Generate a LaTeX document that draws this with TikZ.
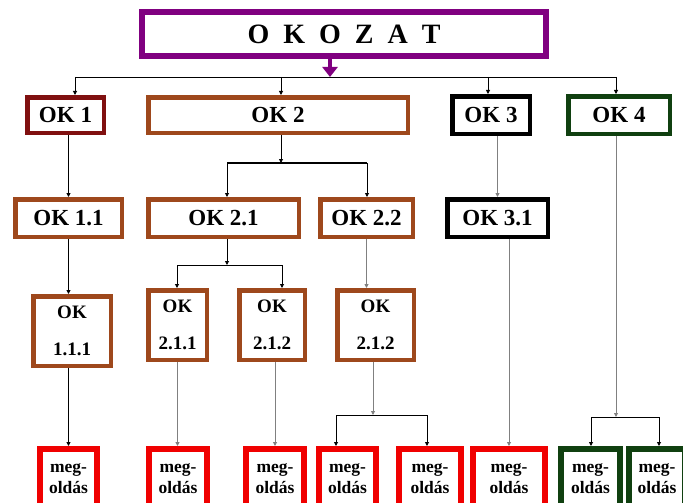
\documentclass[tikz,border=0pt]{standalone}
\usepackage{fontspec}
\setmainfont{Liberation Serif}
\usetikzlibrary{arrows.meta}

\definecolor{okPurple}{RGB}{128,0,128}
\definecolor{okDarkRed}{RGB}{128,16,16}
\definecolor{okBrown}{RGB}{158,72,28}
\definecolor{okGreen}{RGB}{16,64,16}
\definecolor{okRed}{RGB}{240,0,0}

\begin{document}
\begin{tikzpicture}[x=1pt, y=-1pt,
                box/.style={
                  draw=#1, line width=4.5pt, fill=white, inner sep=0pt,
                  font=\fontsize{23}{26}\selectfont\bfseries
                },
                box/.default=okBrown,
                twoLine/.style={box, align=center, font=\fontsize{19}{37}\selectfont\bfseries},
                megBox/.style={
                  draw=#1, line width=6pt, fill=white, inner sep=0pt, align=center,
                  minimum height=60pt, font=\fontsize{17.5}{21}\selectfont\bfseries
                },
                megBox/.default=okRed,
                conn/.style={black, line width=0.9pt, -{Triangle[length=4pt,width=4pt]}},
                connGrey/.style={conn, gray},
                bar/.style={black, line width=0.9pt},
              ]
              \useasboundingbox (0,0) rectangle (683,503);
              \clip (0,0) rectangle (683,503);

              % top box
              \node [draw=okPurple, line width=6pt, inner sep=0pt, minimum width=404pt, minimum height=44pt,
                     font=\fontsize{28}{32}\selectfont\bfseries] (okozat) at (344,34)
                     {O\hspace{14pt}K\hspace{14pt}O\hspace{14pt}Z\hspace{14pt}A\hspace{14pt}T};

              % first level
              \node [box=okDarkRed, minimum width=76.5pt, minimum height=35.5pt] (ok1) at (65.5,115) {OK 1};
              \node [box, minimum width=259.5pt, minimum height=35.5pt] (ok2) at (278,115) {OK 2};
              \node [box=black, minimum width=77.5pt, minimum height=37.5pt] (ok3) at (491,115) {OK 3};
              \node [box=okGreen, minimum width=101.5pt, minimum height=37.5pt] (ok4) at (619,115) {OK 4};

              % second level
              \node [box, minimum width=106.5pt, minimum height=37.5pt] (ok11) at (68.5,218) {OK 1.1};
              \node [box, minimum width=150.5pt, minimum height=37.5pt] (ok21) at (223.5,218) {OK 2.1};
              \node [box, minimum width=92.5pt, minimum height=37.5pt] (ok22) at (366.5,218) {OK 2.2};
              \node [box=black, minimum width=100.5pt, minimum height=37.5pt] (ok31) at (497.5,218) {OK 3.1};

              % third level
              \node [twoLine, minimum width=77.5pt, minimum height=69.5pt] (ok111) at (72,331) {OK\\1.1.1};
              \node [twoLine, minimum width=58.5pt, minimum height=69.5pt] (ok211) at (177.5,325) {OK\\2.1.1};
              \node [twoLine, minimum width=65.5pt, minimum height=69.5pt] (ok212) at (272,325) {OK\\2.1.2};
              \node [twoLine, minimum width=76.5pt, minimum height=69.5pt] (ok212b) at (375.5,325) {OK\\2.1.2};

              % solutions
              \node [megBox, minimum width=57pt] (m1) at (68.5,479) {meg-\\oldás};
              \node [megBox, minimum width=58pt] (m2) at (178,479) {meg-\\oldás};
              \node [megBox, minimum width=58pt] (m3) at (275,479) {meg-\\oldás};
              \node [megBox, minimum width=57pt] (m4) at (347.5,479) {meg-\\oldás};
              \node [megBox, minimum width=62pt] (m5) at (430,479) {meg-\\oldás};
              \node [megBox, minimum width=72pt] (m6) at (509,479) {meg-\\oldás};
              \node [megBox=okGreen, minimum width=59pt] (m7) at (590.5,479) {meg-\\oldás};
              \node [megBox=okGreen, minimum width=56pt] (m8) at (657,479) {meg-\\oldás};

              % branch points
              \coordinate (top) at (330,77);
              \coordinate (b1) at (75,77);
              \coordinate (b2) at (281,77);
              \coordinate (b3) at (488,77);
              \coordinate (b4) at (616,77);
              \coordinate (s2) at (281,163);
              \coordinate (s2a) at (227,163);
              \coordinate (s2b) at (367,163);
              \coordinate (s21) at (227,265);
              \coordinate (s21a) at (177,265);
              \coordinate (s21b) at (282,265);
              \coordinate (s212) at (373,415);
              \coordinate (s212a) at (336,415);
              \coordinate (s212b) at (427,415);
              \coordinate (s4) at (616,417);
              \coordinate (s4a) at (591,417);
              \coordinate (s4b) at (659,417);

              \draw [okPurple, line width=4pt, -{Triangle[length=10pt,width=15pt]}] (okozat.south -| top) -- (top);
              \draw [bar] (b1) -- (b4);
              \draw [conn] (b1) -- (b1 |- ok1.north);
              \draw [conn] (b2) -- (b2 |- ok2.north);
              \draw [conn] (b3) -- (b3 |- ok3.north);
              \draw [conn] (b4) -- (b4 |- ok4.north);

              \draw [conn] (ok1.south -| ok11) -- (ok11.north);
              \draw [conn] (ok11.south) -- (ok11.south |- ok111.north);
              \draw [conn] (ok111.south -| m1) -- (m1.north);

              \draw [conn] (ok2.south -| s2) -- (s2);
              \draw [bar, line width=2pt] (s2a) -- (s2b);
              \draw [conn] (s2a) -- (s2a |- ok21.north);
              \draw [conn] (s2b) -- (s2b |- ok22.north);

              \draw [conn] (ok21.south -| s21) -- (s21);
              \draw [bar] (s21a) -- (s21b);
              \draw [conn] (s21a) -- (s21a |- ok211.north);
              \draw [conn] (s21b) -- (s21b |- ok212.north);
              \draw [connGrey] (ok22.south) -- (ok22.south |- ok212b.north);

              \draw [connGrey] (ok211.south) -- (ok211.south |- m2.north);
              \draw [connGrey] (ok212.south -| m3) -- (m3.north);
              \draw [connGrey] (ok212b.south -| s212) -- (s212);
              \draw [bar] (s212a) -- (s212b);
              \draw [conn] (s212a) -- (s212a |- m4.north);
              \draw [conn] (s212b) -- (s212b |- m5.north);

              \draw [connGrey] (ok3.south -| ok31.north) -- (ok31.north);
              \draw [connGrey] (ok31.south -| m6) -- (m6.north);
              \draw [connGrey] (ok4.south -| s4) -- (s4);
              \draw [bar] (s4a) -- (s4b);
              \draw [conn] (s4a) -- (s4a |- m7.north);
              \draw [conn] (s4b) -- (s4b |- m8.north);
\end{tikzpicture}
\end{document}
